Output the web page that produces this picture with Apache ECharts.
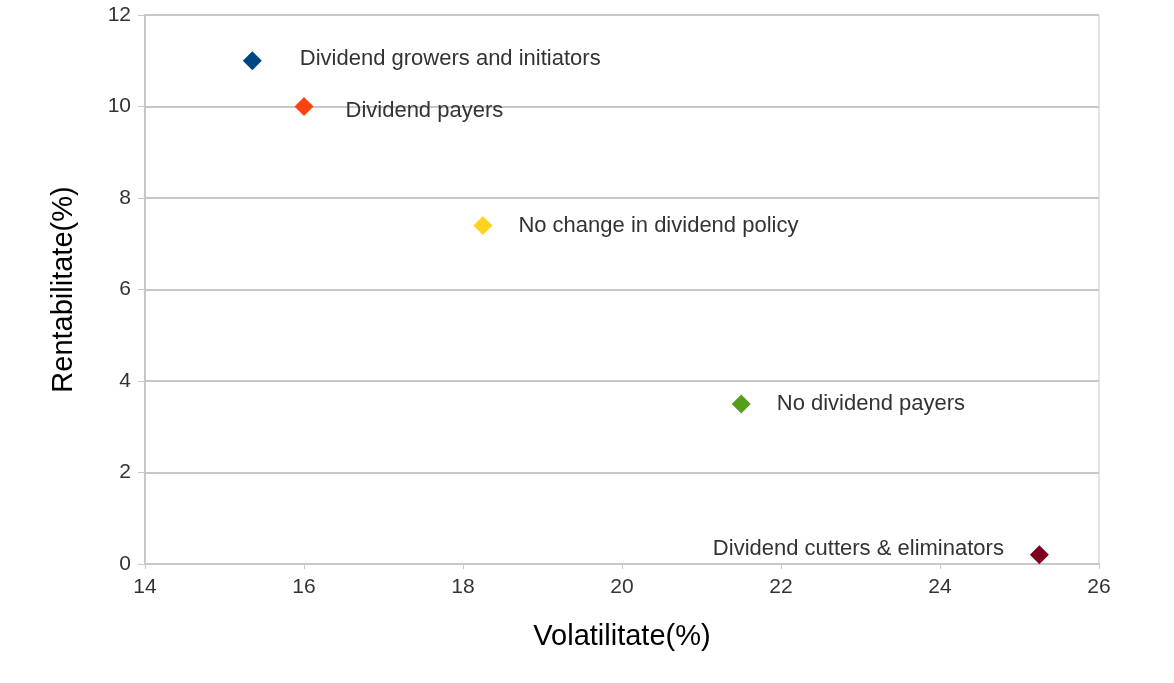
<!DOCTYPE html>
<html>
<head>
<meta charset="utf-8">
<script src="https://cdn.jsdelivr.net/npm/echarts@6/dist/echarts.min.js"></script>
<style>html,body{margin:0;padding:0;background:#fff;}#c{width:1174px;height:683px;}</style>
</head>
<body>
<div id="c"></div>
<script>
const names = ["Dividend growers and initiators", "Dividend payers", "No change in dividend policy", "No dividend payers", "Dividend cutters & eliminators"];
const volatility = [15.35, 16.0, 18.25, 21.5, 25.25];
const returns = [11.0, 10.0, 7.4, 3.5, 0.2];
const colors = ["#004586", "#ff420e", "#ffd320", "#579d1c", "#7e0021"];
const labelPos = ["right", "right", "right", "right", "left"];
const labelOffset = [[12, -2], [6, 4], [0, 0], [0, 0], [0, -6]];

const chart = echarts.init(document.getElementById('c'));
chart.setOption({
  animation: false,
  grid: { left: 145, right: 75, top: 15, bottom: 119, show: true, borderColor: '#c8c8c8', borderWidth: 1 },
  xAxis: {
    type: 'value', min: 14, max: 26, interval: 2,
    name: 'Volatilitate(%)', nameLocation: 'middle', nameGap: 58,
    nameTextStyle: { fontFamily: 'Liberation Sans', fontSize: 29, color: '#000' },
    axisLine: { show: true, lineStyle: { color: '#c8c8c8', width: 2 } },
    axisTick: { show: true, length: 5, lineStyle: { color: '#c8c8c8' } },
    axisLabel: { fontFamily: 'Liberation Sans', fontSize: 21, color: '#333', margin: 13 },
    splitLine: { show: false }
  },
  yAxis: {
    type: 'value', min: 0, max: 12, interval: 2,
    name: 'Rentabilitate(%)', nameLocation: 'middle', nameGap: 67,
    nameTextStyle: { fontFamily: 'Liberation Sans', fontSize: 29, color: '#000' },
    axisLine: { show: true, lineStyle: { color: '#c8c8c8', width: 2 } },
    axisTick: { show: true, length: 7, lineStyle: { color: '#c8c8c8' } },
    axisLabel: { fontFamily: 'Liberation Sans', fontSize: 21, color: '#333', margin: 14 },
    splitLine: { show: true, lineStyle: { color: '#c8c8c8', width: 2 } }
  },
  series: [{
    type: 'scatter',
    symbol: 'diamond',
    symbolSize: 19,
    data: names.map((n, i) => ({
      name: n,
      value: [volatility[i], returns[i]],
      itemStyle: { color: colors[i], opacity: 1 },
      label: { show: true, position: labelPos[i], distance: 26, offset: labelOffset[i], formatter: n,
        fontFamily: 'Liberation Sans', fontSize: 22, color: '#333' }
    }))
  }]
});
</script>
</body>
</html>
